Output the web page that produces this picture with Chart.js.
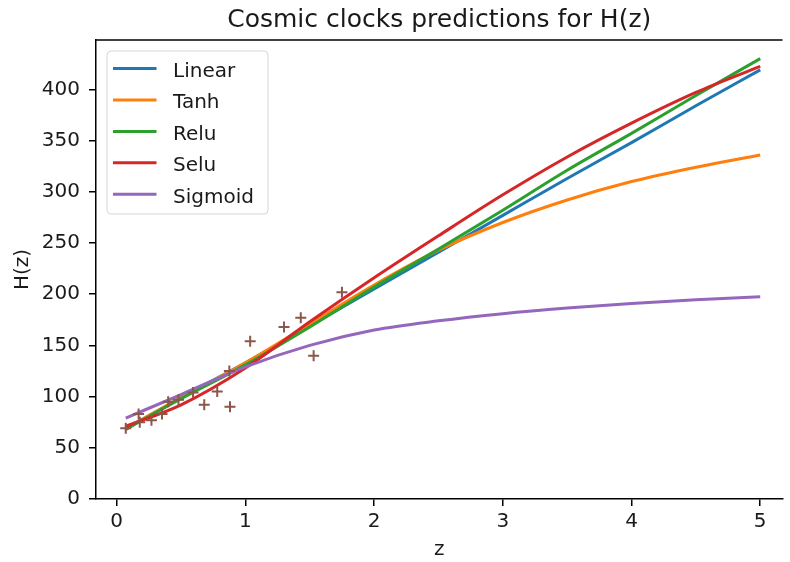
<!DOCTYPE html>
<html>
<head>
<meta charset="utf-8">
<title>Cosmic clocks predictions for H(z)</title>
<script src="https://cdn.jsdelivr.net/npm/chart.js@4.4.0/dist/chart.umd.min.js"></script>
<style>
  html, body { margin: 0; padding: 0; background: #fff; overflow: hidden; }
  canvas { display: block; }
</style>
</head>
<body>
<canvas id="hzChart" width="790" height="562"></canvas>
<script>
// --- Observed H(z) points (cosmic chronometers) ---
const zObs = [0.07, 0.17, 0.179, 0.27, 0.352, 0.40, 0.48, 0.593, 0.68, 0.781, 0.875, 0.88, 1.037, 1.30, 1.43, 1.53, 1.75];
const hObs = [69, 83, 75, 77, 83, 95, 97, 104, 92, 105, 125, 90, 154, 168, 177, 140, 202];

// --- Network predictions ---
const zCurve   = [0.07, 0.5, 1, 1.5, 2, 2.5, 3, 3.5, 4, 4.5, 5];
const hLinear  = [68, 99, 133, 169, 205, 241, 277, 313, 348, 384, 419];
const hTanh    = [69, 99, 133, 171, 209, 243, 270, 292, 310, 324, 336];
const hRelu    = [68, 98, 131, 168, 207, 244, 282, 321, 357, 394, 430];
const hSelu    = [71, 92, 128, 173, 216, 257, 297, 334, 367, 397, 422.5];
const hSigmoid = [79, 102, 129, 150, 165, 174, 181, 186.5, 191, 194.5, 197.5];

const seriesNames  = ['Linear', 'Tanh', 'Relu', 'Selu', 'Sigmoid'];
const seriesValues = [hLinear, hTanh, hRelu, hSelu, hSigmoid];
const seriesColors = ['#1f77b4', '#ff7f0e', '#2ca02c', '#d62728', '#9467bd'];

const xTicks = [0, 1, 2, 3, 4, 5];
const yTicks = [0, 50, 100, 150, 200, 250, 300, 350, 400];

const FONT = 'DejaVu Sans';
const INK = '#1a1a1a';

// matplotlib-like legend box in the upper left of the axes
const boxLegend = {
    id: 'boxLegend',
    afterDatasetsDraw(chart) {
        const ctx = chart.ctx;
        const area = chart.chartArea;
        const items = chart.data.datasets.filter(d => d.showLine);
        const x = area.left + 11, y = area.top + 11;
        const w = 161, h = 163, r = 4;
        ctx.save();
        ctx.beginPath();
        ctx.moveTo(x + r, y);
        ctx.arcTo(x + w, y, x + w, y + h, r);
        ctx.arcTo(x + w, y + h, x, y + h, r);
        ctx.arcTo(x, y + h, x, y, r);
        ctx.arcTo(x, y, x + w, y, r);
        ctx.closePath();
        ctx.fillStyle = 'rgba(255,255,255,0.8)';
        ctx.fill();
        ctx.strokeStyle = '#d6d6d6';
        ctx.lineWidth = 1;
        ctx.stroke();

        ctx.font = '20px "' + FONT + '"';
        ctx.textBaseline = 'alphabetic';
        ctx.textAlign = 'left';
        items.forEach((d, i) => {
            const cy = y + 17.6 + i * 31.4;
            ctx.beginPath();
            ctx.moveTo(x + 6, cy);
            ctx.lineTo(x + 49.5, cy);
            ctx.strokeStyle = d.borderColor;
            ctx.lineWidth = 3;
            ctx.lineCap = 'butt';
            ctx.stroke();
            ctx.fillStyle = INK;
            ctx.fillText(d.label, x + 66, cy + 8.4);
        });
        ctx.restore();
    }
};

// top spine (right spine falls outside the picture)
const topSpine = {
    id: 'topSpine',
    afterDraw(chart) {
        const ctx = chart.ctx;
        const a = chart.chartArea;
        ctx.save();
        ctx.beginPath();
        ctx.moveTo(a.left, a.top);
        ctx.lineTo(a.right, a.top);
        ctx.strokeStyle = '#000';
        ctx.lineWidth = 1.5;
        ctx.stroke();
        ctx.restore();
    }
};

document.addEventListener('DOMContentLoaded', () => {
    const datasets = seriesNames.map((name, i) => ({
        label: name,
        data: zCurve.map((z, k) => ({ x: z, y: seriesValues[i][k] })),
        showLine: true,
        borderColor: seriesColors[i],
        backgroundColor: seriesColors[i],
        borderWidth: 3,
        pointRadius: 0,
        cubicInterpolationMode: 'monotone',
        fill: false,
        order: 5 - i
    }));
    datasets.push({
        label: 'Observed',
        data: zObs.map((z, k) => ({ x: z, y: hObs[k] })),
        showLine: false,
        pointStyle: 'cross',
        pointRadius: 5.5,
        borderWidth: 2,
        borderColor: '#8c564b',
        backgroundColor: '#8c564b',
        order: 0
    });

    const ctx = document.getElementById('hzChart').getContext('2d');
    new Chart(ctx, {
        type: 'scatter',
        data: { datasets },
        options: {
            responsive: false,
            animation: false,
            devicePixelRatio: 1,
            layout: { padding: 0 },
            plugins: {
                legend: { display: false },
                tooltip: { enabled: false },
                title: {
                    display: true,
                    text: 'Cosmic clocks predictions for H(z)',
                    fullSize: false,
                    color: INK,
                    font: { family: FONT, size: 25, weight: 'normal' },
                    padding: { top: 5, bottom: 5 }
                }
            },
            scales: {
                x: {
                    type: 'linear',
                    min: -0.161,
                    max: 5.173,
                    afterFit: s => { s.height = 63; },
                    afterBuildTicks: s => { s.ticks = xTicks.map(v => ({ value: v })); },
                    grid: { drawOnChartArea: false, drawTicks: true, tickLength: 7, tickColor: '#000', lineWidth: 1.5 },
                    border: { display: true, color: '#000', width: 1.5 },
                    ticks: { color: INK, font: { family: FONT, size: 20 }, padding: 4, maxRotation: 0 },
                    title: { display: true, text: 'z', color: INK, font: { family: FONT, size: 20 }, padding: { top: 0, bottom: 0 } }
                },
                y: {
                    type: 'linear',
                    min: 0,
                    max: 448.2,
                    afterFit: s => { s.width = 96; },
                    afterBuildTicks: s => { s.ticks = yTicks.map(v => ({ value: v })); },
                    grid: { drawOnChartArea: false, drawTicks: true, tickLength: 7, tickColor: '#000', lineWidth: 1.5 },
                    border: { display: true, color: '#000', width: 1.5 },
                    ticks: { color: INK, font: { family: FONT, size: 20 }, padding: 9 },
                    title: { display: true, text: 'H(z)', color: INK, font: { family: FONT, size: 20 }, padding: { top: 11, bottom: 0 } }
                }
            }
        },
        plugins: [boxLegend, topSpine]
    });
});
</script>
</body>
</html>
